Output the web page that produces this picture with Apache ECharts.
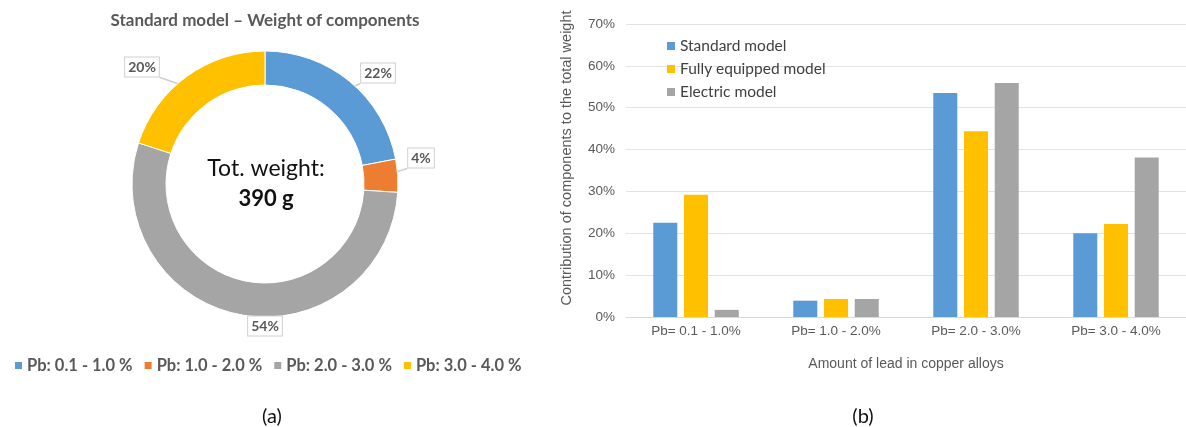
<!DOCTYPE html>
<html>
<head>
<meta charset="utf-8">
<script src="https://cdn.jsdelivr.net/npm/echarts@6/dist/echarts.min.js"></script>
<style>
  html, body { margin: 0; padding: 0; background: #fff; }
  #chart { width: 1186px; height: 427px; }
</style>
</head>
<body>
<div id="chart"></div>
<script>
// Donut (a): standard model, share of component weight by lead content
const donutNames = ['Pb: 0.1 - 1.0 %', 'Pb: 1.0 - 2.0 %', 'Pb: 2.0 - 3.0 %', 'Pb: 3.0 - 4.0 %'];
const donutValues = [22, 4, 54, 20];
const donutColors = ['#5B9BD5', '#ED7D31', '#A5A5A5', '#FFC000'];

// Bars (b): contribution of components to total weight, per model
const categories = ['Pb= 0.1 - 1.0%', 'Pb= 1.0 - 2.0%', 'Pb= 2.0 - 3.0%', 'Pb= 3.0 - 4.0%'];
const seriesNames = ['Standard model', 'Fully equipped model', 'Electric model'];
const standardModel = [22.5, 3.9, 53.5, 20.0];
const fullyEquipped = [29.2, 4.3, 44.4, 22.2];
const electricModel = [1.7, 4.3, 55.9, 38.1];
const barColors = ['#5B9BD5', '#FFC000', '#A5A5A5'];
const yTicks = { min: 0, max: 70, interval: 10 };

const chart = echarts.init(document.getElementById('chart'), null, { renderer: 'canvas' });
const txt = '#595959';

// Donut geometry
const pieCenter = [265, 184];
const pieRadius = [99, 133];
// Callout placement for the donut percentages (label box centres)
const calloutSpots = [[378, 73], [421, 158], [265, 326], [142, 67]];

// Leader line: from the middle of the ring at the slice's mid-angle to the nearest edge of its callout box
function leader(p) {
  const total = donutValues.reduce((a, b) => a + b, 0);
  let before = 0;
  for (let i = 0; i < p.dataIndex; i++) before += donutValues[i];
  const mid = (before + donutValues[p.dataIndex] / 2) / total * Math.PI * 2;
  const r = (pieRadius[0] + pieRadius[1]) / 2;
  const ax = pieCenter[0] + r * Math.sin(mid);
  const ay = pieCenter[1] - r * Math.cos(mid);
  const [cx, cy] = calloutSpots[p.dataIndex];
  const w = p.labelRect.width, h = p.labelRect.height;
  const ex = Math.min(Math.max(ax, cx - w / 2), cx + w / 2);
  const ey = Math.min(Math.max(ay, cy - h / 2), cy + h / 2);
  return {
    x: cx, y: cy, align: 'center', verticalAlign: 'middle',
    labelLinePoints: [[ax, ay], [(ax + ex) / 2, (ay + ey) / 2], [ex, ey]]
  };
}

const option = {
  animation: false,
  title: [
    { text: 'Standard model \u2013 Weight of components', left: 260, top: 7, textAlign: 'center',
      textStyle: { fontFamily: 'Lato', fontWeight: 'bold', fontSize: 17, color: txt } },
    { text: '(a)', left: 267, top: 402, textAlign: 'center',
      textStyle: { fontFamily: 'Lato', fontWeight: 'normal', fontSize: 20, color: '#111' } },
    { text: '(b)', left: 858, top: 402, textAlign: 'center',
      textStyle: { fontFamily: 'Lato', fontWeight: 'normal', fontSize: 20, color: '#111' } }
  ],
  graphic: [
    { type: 'text', x: 266, y: 169, style: { text: 'Tot. weight:', fontFamily: 'Lato', fontSize: 23,
      fill: '#111', textAlign: 'center', textVerticalAlign: 'middle' } },
    { type: 'text', x: 266, y: 199, style: { text: '390 g', fontFamily: 'Lato', fontWeight: 'bold', fontSize: 22,
      fill: '#111', textAlign: 'center', textVerticalAlign: 'middle' } },
    // y-axis title of the bar chart
    { type: 'text', x: 567, y: 158, rotation: Math.PI / 2,
      style: { text: 'Contribution of components to the total weight', fontFamily: 'Liberation Sans',
        fontSize: 14.5, fill: txt, textAlign: 'center', textVerticalAlign: 'middle' } }
  ],
  legend: [
    { data: donutNames, left: 8, top: 352, itemWidth: 9, itemHeight: 9, itemGap: 10, icon: 'rect',
      textStyle: { fontFamily: 'Lato', fontWeight: 'bold', fontSize: 16.5, color: txt, padding: [0, 0, 0, -1] } },
    { data: seriesNames, orient: 'vertical', left: 662, top: 33, itemWidth: 8, itemHeight: 8, itemGap: 7, icon: 'rect',
      textStyle: { fontFamily: 'Lato', fontSize: 15.5, color: '#404040' } }
  ],
  grid: { left: 626, right: -4, top: 24, bottom: 110 },
  xAxis: {
    type: 'category', data: categories,
    axisLine: { lineStyle: { color: '#D9D9D9' } },
    axisTick: { show: false },
    axisLabel: { color: txt, fontFamily: 'Liberation Sans', fontSize: 13.5, margin: 7 },
    name: 'Amount of lead in copper alloys', nameLocation: 'middle', nameGap: 40,
    nameTextStyle: { color: txt, fontFamily: 'Liberation Sans', fontSize: 14 }
  },
  yAxis: {
    type: 'value', min: yTicks.min, max: yTicks.max, interval: yTicks.interval,
    axisLabel: { formatter: '{value}%', color: txt, fontFamily: 'Liberation Sans', fontSize: 13.5, margin: 11 },
    splitLine: { lineStyle: { color: '#E3E3E3' } },
    axisLine: { show: false }, axisTick: { show: false }
  },
  series: [
    {
      type: 'pie', center: pieCenter, radius: pieRadius, startAngle: 90, clockwise: true,
      avoidLabelOverlap: false,
      itemStyle: { borderColor: '#fff', borderWidth: 1 },
      label: {
        formatter: '{c}%', color: txt, fontFamily: 'Lato', fontWeight: 'bold', fontSize: 14,
        backgroundColor: '#fff', borderColor: '#D0D0D0', borderWidth: 1, padding: [3, 3, 2, 3]
      },
      labelLine: { length: 14, length2: 8, lineStyle: { color: '#CFCFCF', width: 1.6 } },
      labelLayout: leader,
      data: donutNames.map((n, i) => ({ name: n, value: donutValues[i], itemStyle: { color: donutColors[i] } }))
    },
    { type: 'bar', name: seriesNames[0], data: standardModel, barWidth: 24, barGap: '28%', itemStyle: { color: barColors[0] } },
    { type: 'bar', name: seriesNames[1], data: fullyEquipped, barWidth: 24, barGap: '28%', itemStyle: { color: barColors[1] } },
    { type: 'bar', name: seriesNames[2], data: electricModel, barWidth: 24, barGap: '28%', itemStyle: { color: barColors[2] } }
  ]
};
chart.setOption(option);
</script>
</body>
</html>
